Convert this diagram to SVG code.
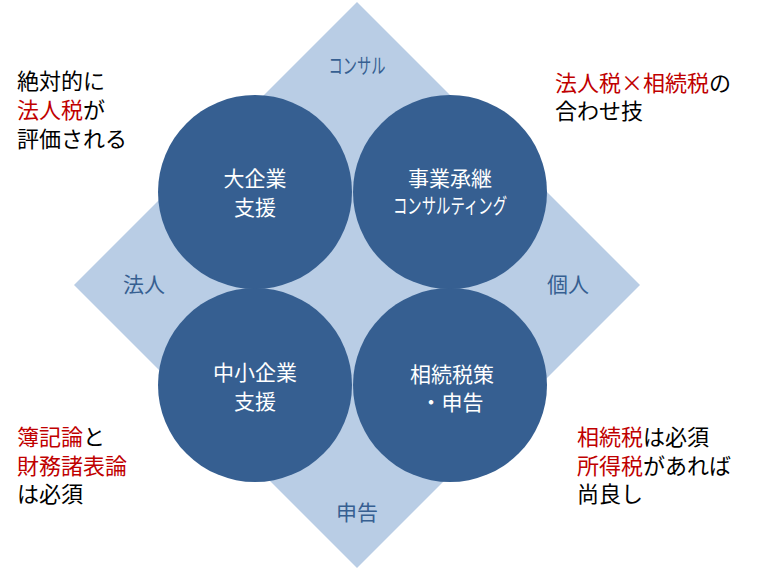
<svg xmlns="http://www.w3.org/2000/svg" width="758" height="569" viewBox="0 0 758 569">
<style>
text{font-family:"Noto Sans CJK JP","Noto Sans CJK SC",sans-serif}
.dia{fill:#B9CDE5}
.c{fill:#365F91}
.lab{fill:#365F91;font-size:21px;text-anchor:middle}
.ct{fill:#FFFFFF;font-size:21px;text-anchor:middle}
.note{fill:#000000;font-size:22px}
.r{fill:#C00000}
</style>
<rect width="758" height="569" fill="#FFFFFF"/>
<g id="diamond">
<polygon class="dia" points="357,2 640,285 357,568 74,285"/>
<text class="lab" x="357" y="73" font-size="16" textLength="57" lengthAdjust="spacingAndGlyphs">コンサル</text>
<text class="lab" x="144" y="292">法人</text>
<text class="lab" x="568" y="292">個人</text>
<text class="lab" x="357" y="520">申告</text>
</g>
<g id="connectors"></g>
<g id="n-large">
<circle class="c" cx="255" cy="192" r="97"/>
<text class="ct" x="255" y="186">大企業<tspan x="255" dy="29">支援</tspan></text>
</g>
<g id="n-succession">
<circle class="c" cx="450" cy="192" r="97"/>
<text class="ct" x="450" y="186">事業承継</text>
<text class="ct" x="450" y="213" font-size="17" textLength="114" lengthAdjust="spacingAndGlyphs">コンサルティング</text>
</g>
<g id="n-sme">
<circle class="c" cx="255" cy="385" r="97"/>
<text class="ct" x="255" y="380">中小企業<tspan x="255" dy="29">支援</tspan></text>
</g>
<g id="n-inherit">
<circle class="c" cx="450" cy="385" r="97"/>
<text class="ct" x="452" y="382">相続税策<tspan x="452" dy="28">・申告</tspan></text>
</g>
<g id="note-tl">
<text class="note" x="17" y="89">絶対的に<tspan x="17" dy="29" class="r">法人税</tspan>が<tspan x="17" dy="29">評価される</tspan></text>
</g>
<g id="note-tr">
<text class="note" x="555" y="91"><tspan class="r">法人税×相続税</tspan>の<tspan x="555" dy="28">合わせ技</tspan></text>
</g>
<g id="note-bl">
<text class="note" x="17" y="445"><tspan class="r">簿記論</tspan>と<tspan x="17" dy="29" class="r">財務諸表論</tspan><tspan x="17" dy="28">は必須</tspan></text>
</g>
<g id="note-br">
<text class="note" x="577" y="445"><tspan class="r">相続税</tspan>は必須<tspan x="577" dy="29" class="r">所得税</tspan>があれば<tspan x="577" dy="28">尚良し</tspan></text>
</g>
</svg>
